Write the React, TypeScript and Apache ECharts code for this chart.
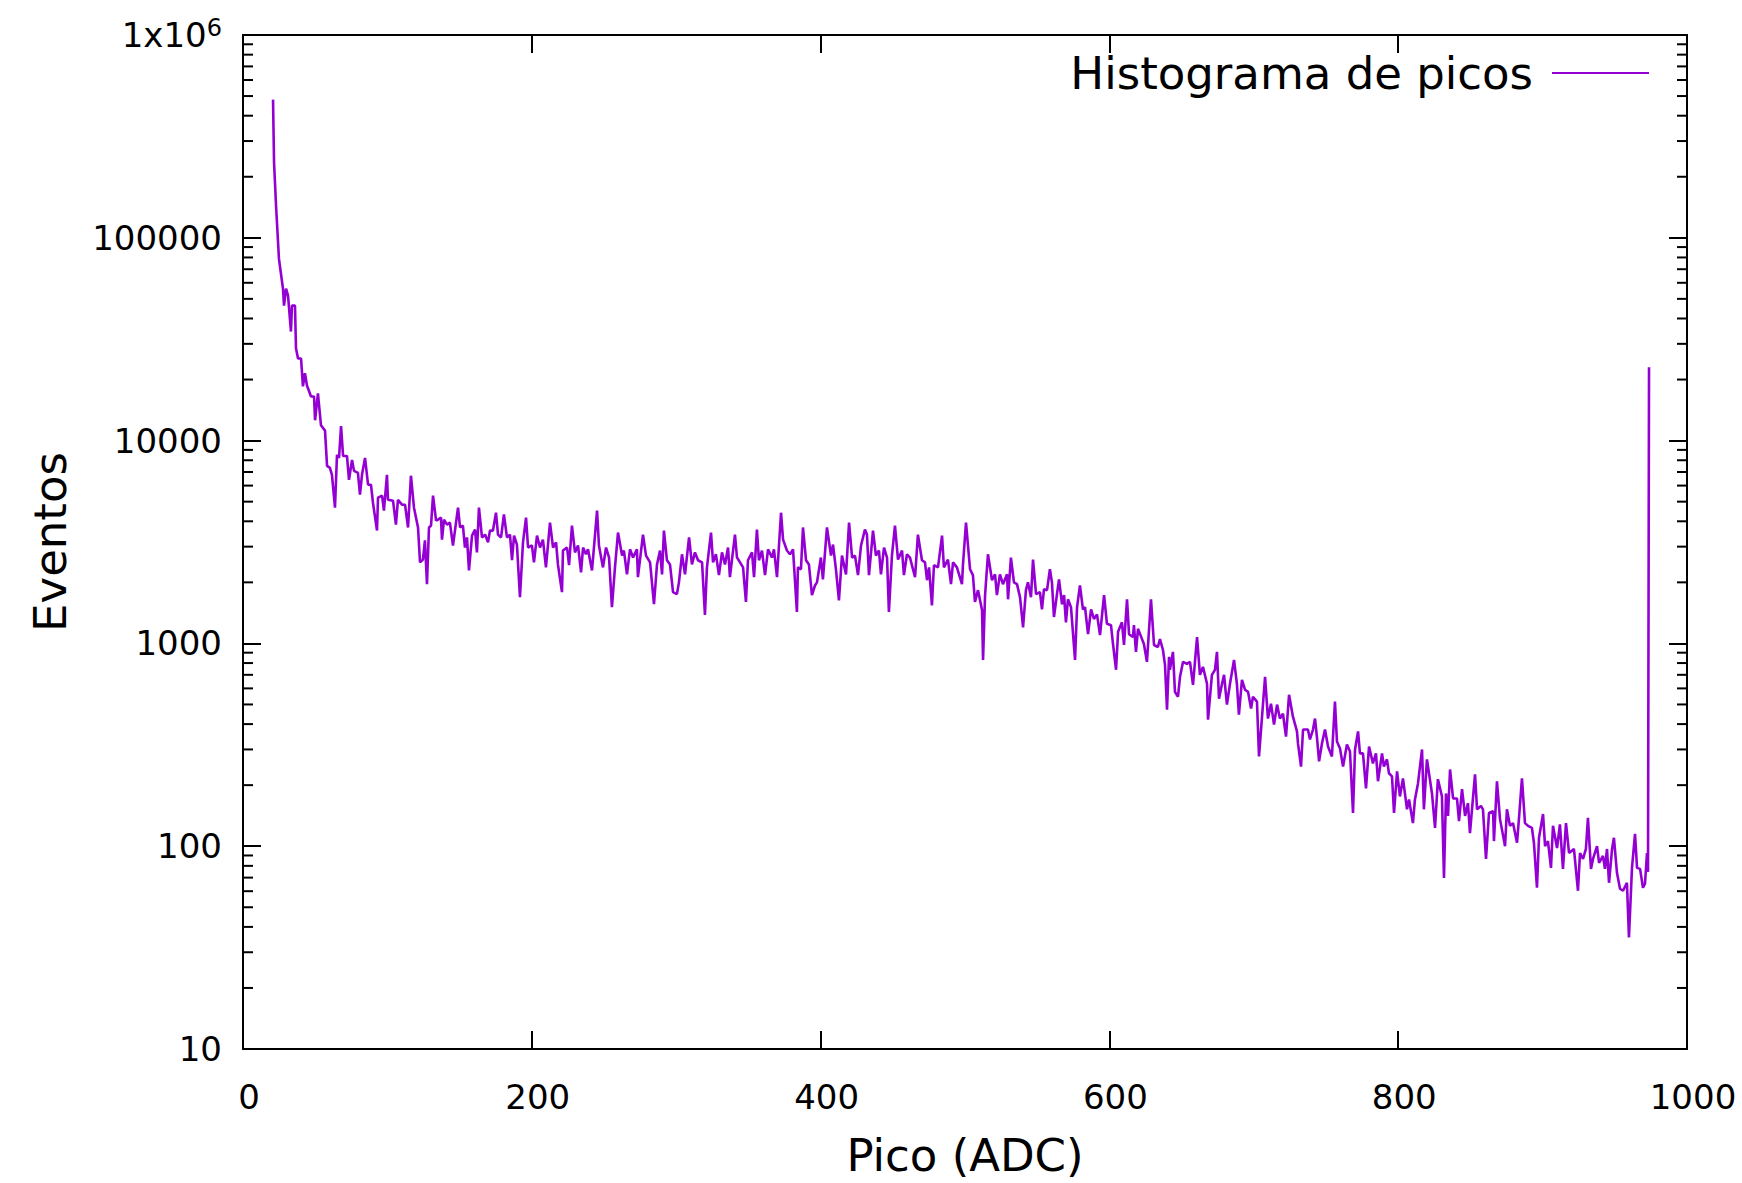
import React, { useEffect, useRef } from "react";
import * as echarts from "echarts";

// Peak (ADC) positions
const picoADC = [
  20.8, 21.5, 22.9, 24.9, 27.7, 28.4, 29.8, 31.2, 33.2, 33.9,
  36.0, 36.7, 38.1, 40.2, 41.5, 42.9, 44.3, 47.1, 49.2, 49.9,
  51.9, 54.0, 56.8, 58.2, 60.2, 61.6, 63.7, 65.1, 66.5, 67.9,
  69.3, 72.0, 73.4, 75.5, 76.9, 79.6, 81.0, 82.4, 84.5, 86.6,
  88.6, 90.0, 92.8, 93.5, 96.3, 97.6, 99.7, 100.4, 103.9, 105.9,
  107.3, 110.1, 112.2, 114.3, 116.3, 118.4, 121.2, 122.6, 124.6, 126.0,
  127.4, 128.8, 130.2, 131.6, 133.7, 135.0, 137.1, 137.8, 139.2, 141.3,
  143.3, 145.4, 148.9, 150.3, 152.3, 153.7, 155.1, 156.5, 158.6, 160.7,
  162.0, 163.4, 165.5, 167.6, 169.7, 171.0, 173.1, 175.2, 176.6, 178.7,
  180.7, 182.8, 184.9, 186.3, 187.7, 189.7, 191.8, 193.9, 196.0, 197.4,
  200.1, 201.5, 203.6, 205.7, 207.7, 209.8, 212.6, 214.7, 216.8, 218.1,
  220.9, 221.6, 224.4, 225.8, 227.8, 229.9, 232.0, 234.1, 235.5, 237.5,
  238.9, 241.7, 245.2, 246.5, 249.3, 251.4, 253.5, 255.5, 257.6, 259.7,
  262.5, 263.8, 265.9, 268.0, 270.1, 272.8, 273.5, 277.0, 279.1, 281.9,
  284.6, 286.7, 288.8, 290.2, 291.5, 293.6, 295.7, 297.8, 300.5, 301.9,
  304.0, 306.1, 308.9, 310.9, 313.0, 315.1, 317.9, 319.9, 321.3, 324.1,
  325.5, 327.5, 329.6, 331.7, 333.8, 335.9, 337.2, 340.7, 342.1, 344.2,
  346.3, 348.3, 349.7, 352.5, 353.9, 355.9, 357.3, 359.4, 361.5, 363.6,
  366.3, 367.7, 369.8, 372.6, 374.0, 376.7, 378.8, 380.9, 383.6, 384.3,
  386.4, 387.8, 389.9, 391.9, 394.0, 396.1, 397.5, 400.2, 401.6, 404.4,
  407.2, 408.6, 410.7, 412.7, 414.8, 417.6, 419.7, 421.8, 423.8, 425.9,
  428.0, 430.7, 432.1, 433.5, 436.3, 438.3, 440.4, 441.8, 443.9, 446.0,
  447.3, 449.4, 451.5, 453.6, 456.4, 457.7, 459.8, 461.9, 465.4, 467.4,
  470.2, 472.3, 473.7, 475.1, 477.1, 478.5, 481.3, 484.1, 485.4, 488.2,
  490.3, 491.7, 494.4, 497.9, 498.6, 500.7, 503.5, 505.5, 506.9, 509.0,
  511.8, 512.5, 513.9, 515.9, 518.7, 520.8, 522.1, 524.2, 526.3, 529.1,
  529.8, 531.8, 533.9, 536.0, 538.1, 540.2, 542.2, 543.6, 545.7, 547.1,
  549.2, 551.9, 553.3, 554.7, 556.8, 558.8, 560.2, 561.6, 563.7, 565.1,
  567.2, 568.6, 569.9, 571.3, 573.4, 576.2, 577.6, 579.6, 581.7, 583.1,
  585.2, 587.3, 589.3, 591.4, 593.5, 596.3, 598.3, 601.1, 602.5, 604.6,
  606.0, 608.7, 610.1, 612.2, 613.6, 616.3, 617.0, 618.4, 619.8, 622.6,
  623.9, 626.0, 628.8, 630.9, 633.6, 635.0, 637.1, 638.5, 639.9, 641.3,
  641.9, 644.0, 645.4, 647.5, 648.9, 651.0, 653.7, 655.8, 657.9, 660.7,
  662.7, 664.8, 667.6, 668.3, 671.0, 673.1, 674.5, 675.9, 678.0, 679.4,
  681.4, 683.5, 686.3, 688.3, 689.7, 691.8, 693.9, 696.0, 698.1, 699.4,
  702.2, 703.6, 705.7, 707.8, 709.8, 711.9, 714.0, 716.1, 718.1, 720.2,
  722.3, 724.4, 727.1, 729.9, 730.6, 732.7, 734.1, 737.5, 738.9, 741.0,
  742.4, 743.8, 745.2, 747.2, 749.3, 751.4, 754.1, 756.2, 757.6, 759.7,
  761.8, 764.5, 766.6, 768.7, 770.1, 772.2, 773.5, 775.6, 777.7, 779.8,
  782.5, 784.6, 786.0, 788.8, 790.1, 792.2, 793.6, 795.7, 797.1, 799.2,
  801.2, 803.3, 806.1, 807.5, 810.2, 811.6, 813.7, 816.5, 817.8, 819.9,
  823.4, 825.5, 827.5, 830.3, 831.7, 833.1, 834.5, 835.9, 838.0, 840.7,
  842.1, 844.2, 846.3, 848.3, 849.7, 853.2, 854.6, 857.3, 858.7, 860.8,
  862.9, 865.7, 866.3, 868.4, 870.5, 874.0, 875.3, 877.4, 879.5, 882.3,
  883.6, 885.7, 887.8, 889.9, 892.6, 894.0, 896.1, 897.5, 900.3, 901.7,
  903.7, 905.8, 907.2, 910.0, 912.0, 914.1, 916.2, 918.3, 921.7, 924.5,
  925.9, 928.0, 930.0, 931.4, 933.5, 934.9, 937.7, 939.1, 941.8, 943.2,
  944.6, 946.0, 948.1, 949.4, 951.5, 953.6, 955.7, 958.4, 959.8, 961.9,
  964.0, 965.4, 967.5, 969.5, 970.9, 972.3, 973.0, 973.7,
];

// Event counts (same order as picoADC)
const eventos = [
  480000, 235000, 143000, 78700, 56100, 46300, 56100, 51800, 34500, 46300,
  46300, 28500, 25400, 25400, 18500, 21500, 18700, 16500, 16500, 12600,
  17100, 11900, 11200, 7510, 7340, 6780, 4670, 8500, 8220, 11800,
  8400, 8400, 6410, 8030, 7090, 6930, 5410, 6780, 8220, 6060,
  6060, 4940, 3600, 5230, 5350, 4520, 6780, 5110, 5050, 3850,
  5110, 4830, 4830, 3730, 6710, 4670, 3730, 2510, 2590, 3220,
  1960, 3730, 3810, 5350, 4030, 4080, 4170, 3250, 4080, 3850,
  3940, 3040, 4670, 3730, 3810, 2970, 3330, 2290, 3400, 3640,
  2810, 4670, 3330, 3440, 3150, 3600, 3600, 4410, 3440, 3330,
  4320, 3330, 3440, 2570, 3400, 3070, 1690, 3150, 4170, 2970,
  3040, 2510, 3400, 2970, 3250, 2370, 3940, 2970, 3150, 2450,
  1790, 2870, 2970, 2430, 3810, 2810, 3040, 2240, 2970, 2750,
  2910, 2290, 4520, 3040, 2370, 2970, 2650, 1510, 2370, 3520,
  2710, 2870, 2190, 2910, 2650, 2910, 2120, 3440, 2710, 2510,
  1560, 2450, 2870, 2190, 3600, 2570, 2450, 1790, 1750, 2000,
  2750, 2190, 3330, 2450, 2810, 2570, 2510, 1380, 2370, 3520,
  2510, 2750, 2170, 2810, 2450, 2970, 2120, 3440, 2650, 2510,
  2370, 1600, 2570, 2810, 2120, 3640, 2570, 2870, 2170, 2910,
  2650, 2910, 2120, 4410, 3250, 2870, 2750, 2910, 1430, 2370,
  2320, 3730, 2570, 2450, 1730, 1930, 2000, 2650, 2070, 3730,
  2710, 3070, 2290, 1630, 2710, 2190, 3940, 2650, 2710, 2170,
  3040, 3640, 3440, 2170, 3600, 2710, 2870, 2190, 2970, 2650,
  1430, 2710, 3810, 2590, 2870, 2170, 2750, 2650, 2120, 3440,
  2570, 2510, 2050, 2370, 1540, 2430, 2370, 3400, 2370, 2590,
  1960, 2510, 2370, 1960, 2450, 3940, 2320, 2170, 1600, 1830,
  1460, 829, 1730, 2750, 2050, 2190, 1730, 2190, 1960, 2190,
  1650, 2650, 2000, 1960, 1690, 1200, 1830, 2000, 1690, 2590,
  1750, 1790, 1470, 1850, 1830, 2320, 2000, 1350, 1750, 2070,
  1560, 1730, 1270, 1650, 1510, 829, 1510, 1930, 1470, 1510,
  1110, 1470, 1320, 1390, 1100, 1730, 1250, 1230, 993, 741,
  1140, 1270, 982, 1650, 1110, 1075, 1230, 908, 1180, 1050,
  993, 811, 1650, 982, 960, 1050, 928, 784, 471, 858,
  741, 908, 577, 546, 684, 811, 793, 811, 625, 1075,
  700, 766, 632, 421, 700, 741, 908, 534, 632, 700,
  499, 632, 829, 632, 445, 661, 591, 577, 477, 546,
  516, 277, 435, 684, 426, 504, 398, 499, 426, 450,
  347, 558, 435, 368, 321, 247, 376, 376, 336, 376,
  426, 340, 262, 321, 376, 310, 277, 516, 328, 303,
  247, 317, 293, 146, 300, 368, 287, 287, 193, 310,
  256, 287, 209, 287, 247, 268, 229, 221, 146, 234,
  176, 216, 152, 170, 130, 170, 204, 300, 152, 268,
  182, 123, 214, 176, 69.8, 182, 141, 239, 172, 172,
  133, 191, 141, 163, 116, 226, 152, 158, 152, 86.5,
  146, 149, 106, 209, 136, 100, 152, 126, 130, 104,
  136, 216, 130, 126, 123, 104, 62.4, 110, 144, 100,
  106, 78.2, 126, 98, 128, 77.3, 130, 92.6, 96.9, 60.3,
  92.6, 86.5, 96.9, 138, 77.3, 86.5, 100, 82.7, 89.5, 77.3,
  96.9, 66.0, 96.9, 110, 73.9, 61.7, 60.3, 66.0, 35.5, 78.2,
  115, 78.2, 77.3, 62.4, 65.3, 92.6, 74.7, 23000,
];

const SERIES_NAME = "Histograma de picos";
const X_NAME = "Pico (ADC)";
const Y_NAME = "Eventos";
const X_TICKS = [0, 200, 400, 600, 800, 1000];
const Y_DECADES = [10, 100, 1000, 10000, 100000, 1000000];
const MINOR_MULTIPLIERS = [2, 3, 4, 5, 6, 7, 8, 9];

const FONT = "DejaVu Sans";
const COLOR = "#9400d3";

export default function App() {
  const ref = useRef<HTMLDivElement>(null);

  useEffect(() => {
    if (!ref.current) return;
    const chart = echarts.init(ref.current, null, { renderer: "svg" });

    const n = Math.min(picoADC.length, eventos.length);
    const data: [number, number][] = [];
    for (let i = 0; i < n; i++) data.push([picoADC[i], eventos[i]]);

    const minorTicks: [number, number][] = [];
    Y_DECADES.slice(0, -1).forEach((d) =>
      MINOR_MULTIPLIERS.forEach((m) => minorTicks.push([0, d * m]))
    );

    const axisLine = { show: true, onZero: false, lineStyle: { color: "#000", width: 2 } };
    const tick = { show: true, inside: true, length: 18, lineStyle: { color: "#000", width: 2 } };
    const labelStyle = { fontFamily: FONT, fontSize: 34, color: "#000" };

    const option: any = {
      animation: false,
      backgroundColor: "#fff",
      grid: { left: 243, top: 35, right: 55, bottom: 129, containLabel: false },
      legend: {
        data: [SERIES_NAME],
        right: 93,
        top: 48,
        padding: 0,
        align: "right",
        icon: "rect",
        itemWidth: 97,
        itemHeight: 2,
        textStyle: { fontFamily: FONT, fontSize: 45, color: "#000", padding: [0, 14, 0, 0], lineHeight: 50 },
      },
      xAxis: [
        {
          type: "value",
          min: X_TICKS[0],
          max: X_TICKS[X_TICKS.length - 1],
          interval: 200,
          position: "bottom",
          axisLine,
          axisTick: tick,
          splitLine: { show: false },
          axisLabel: {
            ...labelStyle,
            margin: 31,
            padding: [0, 0, 0, 12],
            formatter: (v: number) => String(Math.round(v)),
          },
          name: X_NAME,
          nameLocation: "middle",
          nameGap: 84,
          nameTextStyle: { fontFamily: FONT, fontSize: 45, color: "#000" },
        },
        {
          type: "value",
          min: X_TICKS[0],
          max: X_TICKS[X_TICKS.length - 1],
          interval: 200,
          position: "top",
          axisLine,
          axisTick: tick,
          splitLine: { show: false },
          axisLabel: { show: false },
        },
      ],
      yAxis: [
        {
          type: "log",
          logBase: 10,
          min: Y_DECADES[0],
          max: Y_DECADES[Y_DECADES.length - 1],
          position: "left",
          axisLine,
          axisTick: tick,
          splitLine: { show: false },
          axisLabel: {
            ...labelStyle,
            margin: 21,
            formatter: (value: number) => {
              const v = Math.round(value);
              if (v === 1000000) return "1x10{sup|6}";
              return String(v);
            },
            rich: {
              sup: { fontFamily: FONT, fontSize: 24, color: "#000", verticalAlign: "top", padding: [0, 0, 14, 0] },
            },
          },
          name: Y_NAME,
          nameLocation: "middle",
          nameGap: 170,
          nameTextStyle: { fontFamily: FONT, fontSize: 45, color: "#000" },
        },
        {
          type: "log",
          logBase: 10,
          min: Y_DECADES[0],
          max: Y_DECADES[Y_DECADES.length - 1],
          position: "right",
          axisLine,
          axisTick: tick,
          splitLine: { show: false },
          axisLabel: { show: false },
        },
      ],
      series: [
        {
          name: SERIES_NAME,
          type: "line",
          xAxisIndex: 0,
          yAxisIndex: 0,
          data,
          showSymbol: false,
          symbol: "none",
          lineStyle: { color: COLOR, width: 2.6 },
          itemStyle: { color: COLOR },
          z: 3,
        },
        {
          name: "minor",
          type: "custom",
          xAxisIndex: 0,
          yAxisIndex: 0,
          silent: true,
          data: minorTicks,
          z: 4,
          renderItem: (params: any, api: any) => {
            const y = api.coord([0, api.value(1)])[1];
            const cs = params.coordSys;
            const len = 10;
            return {
              type: "group",
              children: [
                { type: "line", shape: { x1: cs.x, y1: y, x2: cs.x + len, y2: y }, style: { stroke: "#000", lineWidth: 2 } },
                {
                  type: "line",
                  shape: { x1: cs.x + cs.width - len, y1: y, x2: cs.x + cs.width, y2: y },
                  style: { stroke: "#000", lineWidth: 2 },
                },
              ],
            };
          },
        },
      ],
    };

    chart.setOption(option);
    return () => chart.dispose();
  }, []);

  return (
    <div
      ref={ref}
      style={{ position: "absolute", left: 0, top: 0, width: 1742, height: 1183, background: "#fff" }}
    />
  );
}
